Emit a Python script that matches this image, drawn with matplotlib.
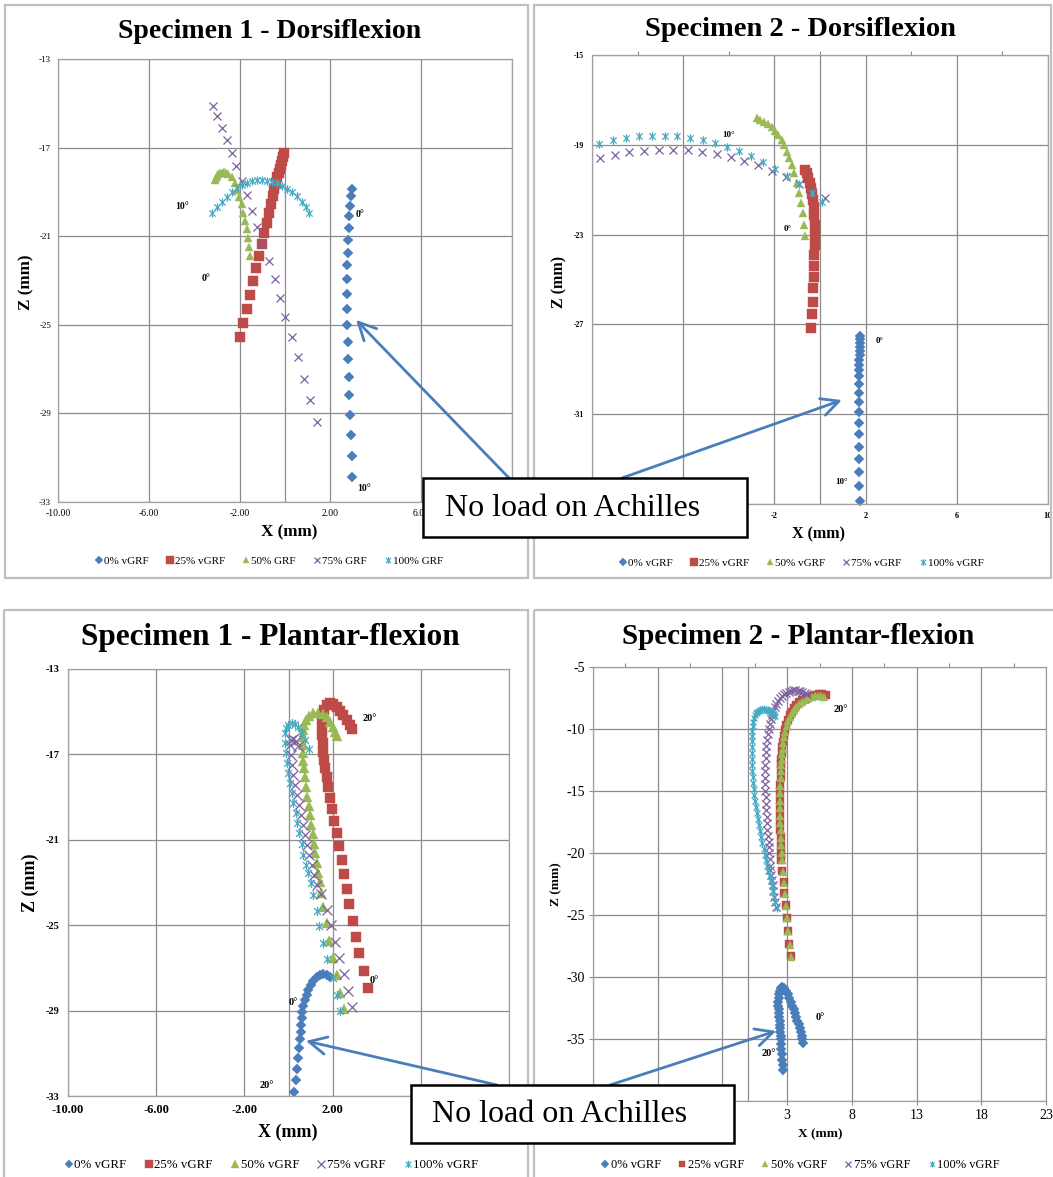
import matplotlib
matplotlib.use("Agg")
import matplotlib.pyplot as plt
from matplotlib.path import Path
from matplotlib.patches import Rectangle, FancyArrowPatch

plt.rcParams["font.family"] = ["Liberation Serif", "DejaVu Serif"]
plt.rcParams["axes.unicode_minus"] = False

W, H = 1053, 1177

# ---------------- data ----------------
LEGEND_S1D = ["0% vGRF", "25% vGRF", "50% GRF", "75% GRF", "100% GRF"]
LEGEND_VGRF = ["0% vGRF", "25% vGRF", "50% vGRF", "75% vGRF", "100% vGRF"]

# Specimen 1 - Dorsiflexion
S1D_X0 = [2.93, 2.89, 2.86, 2.83, 2.80, 2.79, 2.76, 2.74, 2.74, 2.74, 2.74, 2.74, 2.78, 2.78, 2.80, 2.83, 2.86, 2.89, 2.93, 2.97]
S1D_Z0 = [-18.87, -19.19, -19.64, -20.11, -20.62, -21.16, -21.75, -22.32, -22.95, -23.61, -24.29, -25.02, -25.78, -26.54, -27.36, -28.19, -29.06, -29.98, -30.91, -31.86]
S1D_X25 = [-0.06, -0.10, -0.15, -0.19, -0.23, -0.28, -0.34, -0.41, -0.48, -0.54, -0.62, -0.72, -0.81, -0.91, -1.03, -1.15, -1.28, -1.41, -1.54, -1.69, -1.84, -1.98]
S1D_Z25 = [-17.26, -17.41, -17.59, -17.77, -17.95, -18.13, -18.34, -18.58, -18.86, -19.19, -19.55, -19.94, -20.39, -20.87, -21.35, -21.88, -22.45, -23.02, -23.64, -24.29, -24.93, -25.56]
S1D_X50 = [-3.08, -3.05, -3.01, -2.94, -2.86, -2.78, -2.69, -2.60, -2.50, -2.35, -2.20, -2.10, -2.01, -1.91, -1.84, -1.75, -1.69, -1.64, -1.60, -1.55]
S1D_Z50 = [-18.46, -18.37, -18.28, -18.21, -18.16, -18.13, -18.12, -18.14, -18.19, -18.34, -18.61, -18.91, -19.22, -19.55, -19.94, -20.30, -20.69, -21.07, -21.47, -21.89]
S1D_X75 = [-3.18, -2.99, -2.78, -2.57, -2.34, -2.14, -1.90, -1.67, -1.47, -1.24, -1.00, -0.72, -0.45, -0.23, 0.02, 0.29, 0.57, 0.84, 1.11, 1.41]
S1D_Z75 = [-15.12, -15.58, -16.11, -16.65, -17.24, -17.85, -18.49, -19.16, -19.88, -20.60, -21.37, -22.13, -22.95, -23.78, -24.65, -25.56, -26.46, -27.43, -28.40, -29.40]
S1D_X100 = [-3.23, -3.01, -2.79, -2.57, -2.35, -2.13, -1.91, -1.69, -1.47, -1.25, -1.03, -0.81, -0.59, -0.37, -0.15, 0.07, 0.30, 0.52, 0.74, 0.93, 1.07]
S1D_Z100 = [-19.97, -19.67, -19.44, -19.22, -18.99, -18.84, -18.69, -18.58, -18.49, -18.46, -18.46, -18.49, -18.54, -18.61, -18.73, -18.86, -18.99, -19.19, -19.44, -19.67, -19.94]
S1D_NOTES = [("0°", 3.30, -20.0), ("10°", 3.48, -32.37), ("10°", -4.54, -19.64), ("0°", -3.48, -22.9)]

# Specimen 2 - Dorsiflexion
S2D_X0 = [1.76, 1.76, 1.75, 1.75, 1.74, 1.74, 1.73, 1.73, 1.72, 1.72, 1.70, 1.70, 1.69, 1.69, 1.69, 1.69, 1.70, 1.70, 1.72, 1.73, 1.75]
S2D_Z0 = [-27.50, -27.67, -27.84, -28.01, -28.17, -28.37, -28.58, -28.79, -29.04, -29.29, -29.66, -30.05, -30.47, -30.92, -31.39, -31.89, -32.44, -32.98, -33.57, -34.20, -34.86]
S2D_X25 = [-0.66, -0.58, -0.51, -0.44, -0.38, -0.34, -0.29, -0.26, -0.25, -0.23, -0.23, -0.23, -0.25, -0.26, -0.28, -0.29, -0.31, -0.34, -0.38]
S2D_Z25 = [-20.12, -20.27, -20.49, -20.71, -20.94, -21.19, -21.46, -21.76, -22.13, -22.57, -23.02, -23.46, -23.91, -24.39, -24.88, -25.39, -25.99, -26.54, -27.17]
S2D_X50 = [-2.78, -2.63, -2.46, -2.27, -2.12, -1.97, -1.83, -1.68, -1.58, -1.46, -1.35, -1.24, -1.13, -1.02, -0.92, -0.85, -0.76, -0.69, -0.64]
S2D_Z50 = [-17.82, -17.90, -17.97, -18.07, -18.19, -18.37, -18.56, -18.79, -19.01, -19.31, -19.60, -19.90, -20.27, -20.69, -21.13, -21.58, -22.05, -22.57, -23.06]
S2D_X75 = [-9.65, -8.99, -8.36, -7.72, -7.07, -6.43, -5.80, -5.18, -4.53, -3.92, -3.33, -2.71, -2.12, -1.49, -0.91, -0.36, 0.22]
S2D_Z75 = [-19.58, -19.45, -19.33, -19.27, -19.21, -19.21, -19.25, -19.33, -19.43, -19.55, -19.72, -19.92, -20.17, -20.42, -20.76, -21.06, -21.39]
S2D_X100 = [-9.68, -9.09, -8.52, -7.95, -7.37, -6.81, -6.26, -5.70, -5.14, -4.59, -4.07, -3.54, -3.03, -2.49, -1.96, -1.46, -0.91, -0.36, 0.07]
S2D_Z100 = [-18.95, -18.80, -18.70, -18.63, -18.59, -18.59, -18.63, -18.70, -18.80, -18.93, -19.10, -19.28, -19.52, -19.78, -20.09, -20.40, -20.76, -21.16, -21.56]
S2D_NOTES = [("10°", -4.02, -18.55), ("0°", -1.42, -22.73), ("0°", 2.60, -27.76), ("10°", 0.95, -34.02)]

# Specimen 1 - Plantar-flexion
S1P_X0 = [1.88, 1.73, 1.58, 1.43, 1.28, 1.12, 1.01, 0.90, 0.83, 0.75, 0.67, 0.63, 0.60, 0.57, 0.55, 0.52, 0.49, 0.44, 0.40, 0.34, 0.26]
S1P_Z0 = [-27.44, -27.33, -27.29, -27.33, -27.44, -27.60, -27.80, -28.04, -28.27, -28.51, -28.78, -29.05, -29.36, -29.67, -29.99, -30.34, -30.77, -31.24, -31.74, -32.25, -32.80]
S1P_X25 = [3.59, 3.42, 3.21, 3.06, 2.91, 2.76, 2.64, 2.52, 2.41, 2.30, 2.19, 2.06, 1.97, 1.88, 1.81, 1.73, 1.67, 1.62, 1.58, 1.55,
           1.53, 1.52, 1.53, 1.61, 1.73, 1.88, 2.03, 2.19, 2.34, 2.49, 2.64, 2.79, 2.87]
S1P_Z25 = [-27.96, -27.15, -26.32, -25.54, -24.79, -24.01, -23.32, -22.60, -21.95, -21.28, -20.67, -20.11, -19.57, -19.06, -18.54, -18.07, -17.65, -17.26, -16.87, -16.48,
           -16.09, -15.70, -15.31, -14.92, -14.69, -14.61, -14.64, -14.77, -14.95, -15.15, -15.39, -15.62, -15.82]
S1P_X50 = [2.52, 2.34, 2.19, 2.00, 1.85, 1.73, 1.58, 1.46, 1.43, 1.35, 1.28, 1.22, 1.16, 1.10, 1.03, 0.97, 0.92, 0.85, 0.79, 0.75,
           0.70, 0.67, 0.66, 0.64, 0.64, 0.66, 0.70, 0.79, 0.94, 1.12, 1.35, 1.55, 1.73, 1.88, 2.00, 2.11, 2.19]
S1P_Z50 = [-28.94, -28.19, -27.33, -26.55, -25.73, -24.91, -24.16, -23.51, -22.96, -22.54, -22.10, -21.63, -21.20, -20.73, -20.31, -19.84, -19.42, -18.98, -18.51, -18.04,
           -17.65, -17.31, -16.95, -16.56, -16.17, -15.86, -15.62, -15.39, -15.20, -15.07, -15.05, -15.12, -15.26, -15.47, -15.70, -15.94, -16.14]
S1P_X75 = [2.87, 2.71, 2.52, 2.30, 2.11, 1.91, 1.73, 1.47, 1.28, 1.16, 1.05, 0.93, 0.83, 0.73, 0.64, 0.55, 0.46, 0.37, 0.29, 0.22,
           0.16, 0.10, 0.07, 0.10, 0.22, 0.34, 0.44]
S1P_Z75 = [-28.85, -28.07, -27.30, -26.55, -25.77, -24.99, -24.29, -23.54, -23.12, -22.65, -22.18, -21.71, -21.24, -20.78, -20.31, -19.84, -19.37, -18.90, -18.43, -17.96,
           -17.50, -17.03, -16.56, -16.33, -16.26, -16.37, -16.61]
S1P_X100 = [2.34, 2.19, 2.03, 1.76, 1.58, 1.40, 1.28, 1.10, 1.01, 0.90, 0.79, 0.67, 0.60, 0.49, 0.40, 0.33, 0.22, 0.15, 0.07, -0.01,
            -0.08, -0.11, -0.16, -0.16, -0.11, -0.01, 0.15, 0.29, 0.44, 0.60, 0.75, 0.94]
S1P_Z100 = [-29.00, -28.27, -27.49, -26.60, -25.82, -25.04, -24.32, -23.59, -23.04, -22.57, -22.18, -21.71, -21.20, -20.70, -20.23, -19.76, -19.29, -18.82, -18.35, -17.89,
            -17.42, -16.95, -16.48, -16.01, -15.78, -15.62, -15.54, -15.59, -15.73, -16.01, -16.33, -16.76]
S1P_NOTES = [("20°", 3.70, -15.32), ("0°", 3.89, -27.59), ("0°", 0.21, -28.64), ("20°", -0.98, -32.49)]

# Specimen 2 - Plantar-flexion
S2P_X0 = [4.23, 4.15, 4.13, 4.04, 3.98, 3.88, 3.79, 3.69, 3.62, 3.50, 3.41, 3.29, 3.15, 3.04, 2.90, 2.77, 2.64, 2.52, 2.45, 2.38,
          2.35, 2.33, 2.33, 2.35, 2.36, 2.38, 2.41, 2.44, 2.44, 2.48, 2.52, 2.52, 2.54, 2.56, 2.60, 2.64, 2.69, 2.69]
S2P_Z0 = [-35.34, -35.00, -34.73, -34.44, -34.13, -33.83, -33.52, -33.23, -32.92, -32.62, -32.31, -32.02, -31.72, -31.41, -31.10, -30.89, -30.81, -30.89, -31.13, -31.41,
          -31.69, -31.98, -32.31, -32.62, -32.90, -33.23, -33.55, -33.87, -34.13, -34.44, -34.76, -35.03, -35.40, -35.79, -36.21, -36.69, -37.10, -37.51]
S2P_X25 = [5.98, 5.72, 5.46, 5.20, 4.95, 4.70, 4.44, 4.18, 3.92, 3.72, 3.54, 3.37, 3.21, 3.07, 2.95, 2.85, 2.77, 2.70, 2.64, 2.60,
           2.56, 2.54, 2.52, 2.49, 2.46, 2.45, 2.44, 2.44, 2.44, 2.45, 2.46, 2.49, 2.52, 2.54, 2.56, 2.64, 2.72, 2.79, 2.90, 2.98,
           3.05, 3.15, 3.28]
S2P_Z25 = [-7.25, -7.20, -7.18, -7.23, -7.31, -7.42, -7.55, -7.70, -7.85, -8.07, -8.31, -8.60, -8.91, -9.27, -9.66, -10.10, -10.56, -11.02, -11.48, -11.93,
           -12.38, -12.84, -13.29, -13.90, -14.50, -15.10, -15.70, -16.31, -16.91, -17.52, -18.12, -18.72, -19.33, -19.94, -20.54, -21.45, -22.35, -23.26, -24.23, -25.22,
           -26.27, -27.34, -28.33]
S2P_X50 = [5.85, 5.62, 5.38, 5.13, 4.89, 4.64, 4.39, 4.14, 3.90, 3.70, 3.53, 3.36, 3.21, 3.08, 2.96, 2.86, 2.78, 2.71, 2.65, 2.61,
           2.58, 2.55, 2.53, 2.50, 2.48, 2.47, 2.46, 2.46, 2.46, 2.47, 2.49, 2.51, 2.54, 2.57, 2.60, 2.67, 2.75, 2.83, 2.93, 3.01,
           3.09, 3.19, 3.31]
S2P_Z50 = [-7.40, -7.33, -7.31, -7.35, -7.43, -7.54, -7.67, -7.82, -7.98, -8.19, -8.43, -8.72, -9.03, -9.39, -9.78, -10.21, -10.66, -11.12, -11.58, -12.03,
           -12.48, -12.94, -13.39, -13.98, -14.58, -15.18, -15.78, -16.38, -16.98, -17.58, -18.18, -18.78, -19.38, -19.98, -20.58, -21.50, -22.40, -23.32, -24.30, -25.28,
           -26.33, -27.40, -28.41]
S2P_X75 = [2.13, 2.06, 2.00, 1.93, 1.87, 1.81, 1.75, 1.71, 1.67, 1.64, 1.62, 1.59, 1.56, 1.52, 1.48, 1.44, 1.41, 1.38, 1.36, 1.33,
           1.31, 1.31, 1.31, 1.31, 1.31, 1.33, 1.36, 1.40, 1.44, 1.50, 1.56, 1.64, 1.73, 1.82, 1.92, 2.03, 2.15, 2.30, 2.46, 2.61,
           2.77, 2.94, 3.12, 3.29, 3.46, 3.63, 3.81, 3.98, 4.15, 4.35, 4.54]
S2P_Z75 = [-24.33, -23.92, -23.52, -23.05, -22.58, -22.17, -21.77, -21.41, -21.05, -20.52, -20.00, -19.55, -19.11, -18.63, -18.15, -17.62, -17.10, -16.57, -16.05, -15.52,
           -15.00, -14.47, -13.95, -13.42, -12.90, -12.37, -11.85, -11.37, -10.89, -10.44, -10.00, -9.59, -9.19, -8.87, -8.55, -8.26, -7.98, -7.74, -7.50, -7.34,
           -7.18, -7.08, -6.98, -6.93, -6.88, -6.89, -6.90, -6.94, -6.98, -7.06, -7.14]
S2P_X100 = [2.18, 2.09, 2.00, 1.91, 1.82, 1.73, 1.64, 1.55, 1.46, 1.37, 1.27, 1.18, 1.08, 0.98, 0.88, 0.80, 0.73, 0.66, 0.59, 0.52,
            0.46, 0.41, 0.37, 0.34, 0.31, 0.29, 0.28, 0.27, 0.27, 0.27, 0.28, 0.30, 0.33, 0.37, 0.42, 0.50, 0.59, 0.70, 0.81, 0.94,
            1.08, 1.22, 1.35, 1.49, 1.62, 1.74, 1.85, 1.95, 2.04]
S2P_Z100 = [-24.40, -23.97, -23.55, -23.10, -22.66, -22.25, -21.85, -21.45, -21.05, -20.60, -20.16, -19.67, -19.19, -18.71, -18.23, -17.74, -17.26, -16.77, -16.29, -15.80,
            -15.32, -14.83, -14.35, -13.87, -13.39, -12.90, -12.42, -11.93, -11.45, -11.00, -10.56, -10.16, -9.76, -9.43, -9.11, -8.90, -8.71, -8.60, -8.51, -8.45,
            -8.41, -8.42, -8.44, -8.47, -8.52, -8.60, -8.69, -8.81, -8.95]
S2P_NOTES = [("20°", 7.13, -8.39), ("0°", 5.59, -33.3), ("20°", 1.56, -36.15)]

# arrow targets (data coords) for "No load on Achilles"
ARROW_S1D = (3.13, -24.78)
ARROW_S2D = (0.96, -30.37)
ARROW_S1P = (0.79, -30.42)
ARROW_S2P = (2.15, -34.35)

COLORS = ["#4A7EBB", "#BE4B48", "#98B954", "#7D60A0", "#46AAC5"]
GRID = "#8C8C8C"

STAR = Path([(0, -1), (0, 1), (-0.75, -0.75), (0.75, 0.75), (-0.75, 0.75), (0.75, -0.75)],
            [Path.MOVETO, Path.LINETO, Path.MOVETO, Path.LINETO, Path.MOVETO, Path.LINETO])
MARKERS = ["D", "s", "^", "x", STAR]


def make_panel(fig, box, series, legend, xlim, ylim, xstep, ystep, xfmt, st):
    left, right, top, bottom = box
    ax = fig.add_axes([left / W, 1 - bottom / H, (right - left) / W, (bottom - top) / H])
    ax.set_facecolor("none")
    ax.set_xlim(*xlim)
    ax.set_ylim(min(ylim), max(ylim))

    xt = list(range(xlim[0], xlim[1] + 1, xstep))
    yt = list(range(ylim[0], ylim[1] - 1, -ystep))
    hide_x = st.get("hide_x", [])
    hide_y = st.get("hide_y", [])
    ax.set_xticks(xt)
    ax.set_yticks(yt)
    ax.set_xticklabels(["" if v in hide_x else xfmt.format(v) for v in xt],
                       fontsize=st["xtick_fs"], fontweight=st["tick_w"])
    ax.set_yticklabels(["" if v in hide_y else str(v) for v in yt],
                       fontsize=st["ytick_fs"], fontweight=st["tick_w"])
    ax.tick_params(length=st["ticklen"], color=GRID, width=0.8, pad=st["pad"])
    ax.grid(True, color=GRID, linewidth=0.9)
    ax.axvline(0, color=GRID, linewidth=0.9)
    for sp in ax.spines.values():
        sp.set_color("#A0A0A0")
        sp.set_linewidth(0.9)
    if st.get("minor_top"):
        sec = ax.secondary_xaxis("top")
        sec.set_xticks([v + xstep / 2 for v in xt[:-1]])
        sec.set_xticklabels([])
        sec.tick_params(length=3, color=GRID, width=0.8)
        sec.spines["top"].set_visible(False)

    for i, (xs, zs) in enumerate(series):
        ms = st["ms"][i]
        if i >= 3:
            ax.plot(xs, zs, linestyle="none", marker=MARKERS[i], markersize=ms,
                    markerfacecolor="none", markeredgecolor=COLORS[i], markeredgewidth=0.9,
                    label=legend[i], clip_on=False)
        else:
            ax.plot(xs, zs, linestyle="none", marker=MARKERS[i], markersize=ms,
                    color=COLORS[i], markeredgecolor=COLORS[i], markeredgewidth=0.3,
                    label=legend[i], clip_on=False)

    for txt, x, z in st["notes"]:
        ax.text(x, z, txt, fontsize=st["note_fs"], fontweight="bold", ha="center", va="center")

    lx, ly = st["legend_pos"]
    ax.legend(loc="center", bbox_to_anchor=((lx - left) / (right - left), (bottom - ly) / (bottom - top)),
              ncol=5, frameon=False, fontsize=st["leg_fs"], handletextpad=0.05,
              columnspacing=st["colsp"], handlelength=0.8, markerscale=st.get("mscale", 0.8), borderaxespad=0)

    # axis labels, positioned in pixels of the reference
    xlx, xly = st["xlabel_pos"]
    ax.text((xlx - left) / (right - left), (bottom - xly) / (bottom - top), "X (mm)",
            transform=ax.transAxes, ha="center", va="center", fontsize=st["lab_fs"], fontweight="bold")
    ylx, yly = st["ylabel_pos"]
    ax.text((ylx - left) / (right - left), (bottom - yly) / (bottom - top), "Z (mm)",
            transform=ax.transAxes, ha="center", va="center", rotation=90,
            fontsize=st["lab_fs"], fontweight="bold")
    return ax


fig = plt.figure(figsize=(W / 100, H / 100), dpi=100)

ax1 = make_panel(
    fig, (58, 512, 59, 502),
    [(S1D_X0, S1D_Z0), (S1D_X25, S1D_Z25), (S1D_X50, S1D_Z50), (S1D_X75, S1D_Z75), (S1D_X100, S1D_Z100)],
    LEGEND_S1D, (-10, 10), (-13, -33), 4, 4, "{:.2f}",
    dict(xtick_fs=7, ytick_fs=6.5, tick_w="normal", ticklen=0, pad=5, ms=[5.0, 6.6, 6.0, 6.0, 6.0],
         notes=S1D_NOTES, note_fs=7, legend_pos=(269, 561), leg_fs=8, colsp=1.5, hide_x=[10],
         xlabel_pos=(289, 532), ylabel_pos=(26, 282), lab_fs=12.3))

ax2 = make_panel(
    fig, (592, 1048, 55, 504),
    [(S2D_X0, S2D_Z0), (S2D_X25, S2D_Z25), (S2D_X50, S2D_Z50), (S2D_X75, S2D_Z75), (S2D_X100, S2D_Z100)],
    LEGEND_VGRF, (-10, 10), (-15, -35), 4, 4, "{:d}",
    dict(xtick_fs=6, ytick_fs=5.5, tick_w="bold", ticklen=0, pad=6, ms=[4.6, 6.6, 6.0, 6.0, 6.0],
         notes=S2D_NOTES, note_fs=6.5, legend_pos=(801, 563), leg_fs=8, colsp=1.5, minor_top=True,
         hide_x=[-10, -6], hide_y=[-35], xlabel_pos=(818, 534), ylabel_pos=(559, 282), lab_fs=11.5))

ax3 = make_panel(
    fig, (68, 509, 669, 1096),
    [(S1P_X0, S1P_Z0), (S1P_X25, S1P_Z25), (S1P_X50, S1P_Z50), (S1P_X75, S1P_Z75), (S1P_X100, S1P_Z100)],
    LEGEND_VGRF, (-10, 10), (-13, -33), 4, 4, "{:.2f}",
    dict(xtick_fs=9, ytick_fs=7.5, tick_w="bold", ticklen=0, pad=6, ms=[5.4, 7.2, 6.6, 6.6, 6.6],
         notes=S1P_NOTES, note_fs=7.5, legend_pos=(271, 1165), leg_fs=9.3, colsp=1.3, hide_x=[6, 10],
         xlabel_pos=(288, 1132), ylabel_pos=(30, 883), lab_fs=13))

ax4 = make_panel(
    fig, (593, 1046, 667, 1101),
    [(S2P_X0, S2P_Z0), (S2P_X25, S2P_Z25), (S2P_X50, S2P_Z50), (S2P_X75, S2P_Z75), (S2P_X100, S2P_Z100)],
    LEGEND_VGRF, (-12, 23), (-5, -40), 5, 5, "{:d}",
    dict(xtick_fs=10, ytick_fs=10, tick_w="normal", ticklen=3, pad=3, ms=[5.0, 6.2, 5.6, 5.6, 5.6],
         notes=S2P_NOTES, note_fs=7.5, legend_pos=(800, 1165), leg_fs=9, colsp=1.3, minor_top=True,
         mscale=0.75, hide_x=[-12, -7, -2], hide_y=[-40],
         xlabel_pos=(820, 1134), ylabel_pos=(556, 884), lab_fs=9.5))

# overlay in reference pixels: panel frames, titles, call-out boxes and arrows
ov = fig.add_axes([0, 0, 1, 1], zorder=10)
ov.set_xlim(0, W)
ov.set_ylim(H, 0)
ov.axis("off")
ov.patch.set_alpha(0)

for (x0, y0, x1, y1) in [(5, 5, 528, 578), (534, 5, 1051, 578), (4, 610, 528, 1180), (534, 610, 1055, 1180)]:
    ov.add_patch(Rectangle((x0, y0), x1 - x0, y1 - y0, fill=False, edgecolor="#BFBFBF", linewidth=1.6))

ov.text(270, 31, "Specimen 1 - Dorsiflexion", ha="center", va="center", fontsize=20, fontweight="bold")
ov.text(800, 29, "Specimen 2 - Dorsiflexion", ha="center", va="center", fontsize=20.5, fontweight="bold")
ov.text(270, 638, "Specimen 1 - Plantar-flexion", ha="center", va="center", fontsize=22.5, fontweight="bold")
ov.text(798, 637, "Specimen 2 - Plantar-flexion", ha="center", va="center", fontsize=21, fontweight="bold")


def to_overlay(ax, pt):
    return ov.transData.inverted().transform(ax.transData.transform(pt))


fig.canvas.draw()
for ax, pt, tail in [(ax1, ARROW_S1D, (509, 478)), (ax2, ARROW_S2D, (622, 478)),
                     (ax3, ARROW_S1P, (497, 1085)), (ax4, ARROW_S2P, (610, 1085))]:
    head = to_overlay(ax, pt)
    ov.add_patch(FancyArrowPatch(tail, head, arrowstyle="->,head_length=0.9,head_width=0.45",
                                 mutation_scale=14, color="#4A7EBB", linewidth=2, shrinkA=0, shrinkB=0))

for (x0, y0, x1, y1), tx in [((423, 478, 747, 537), 445), ((411, 1085, 734, 1143), 432)]:
    ov.add_patch(Rectangle((x0, y0), x1 - x0, y1 - y0, facecolor="white", edgecolor="black", linewidth=1.8))
    ov.text(tx, (y0 + y1) / 2 + 1, "No load on Achilles", ha="left", va="center", fontsize=23)

fig.savefig("out.png", dpi=100)
